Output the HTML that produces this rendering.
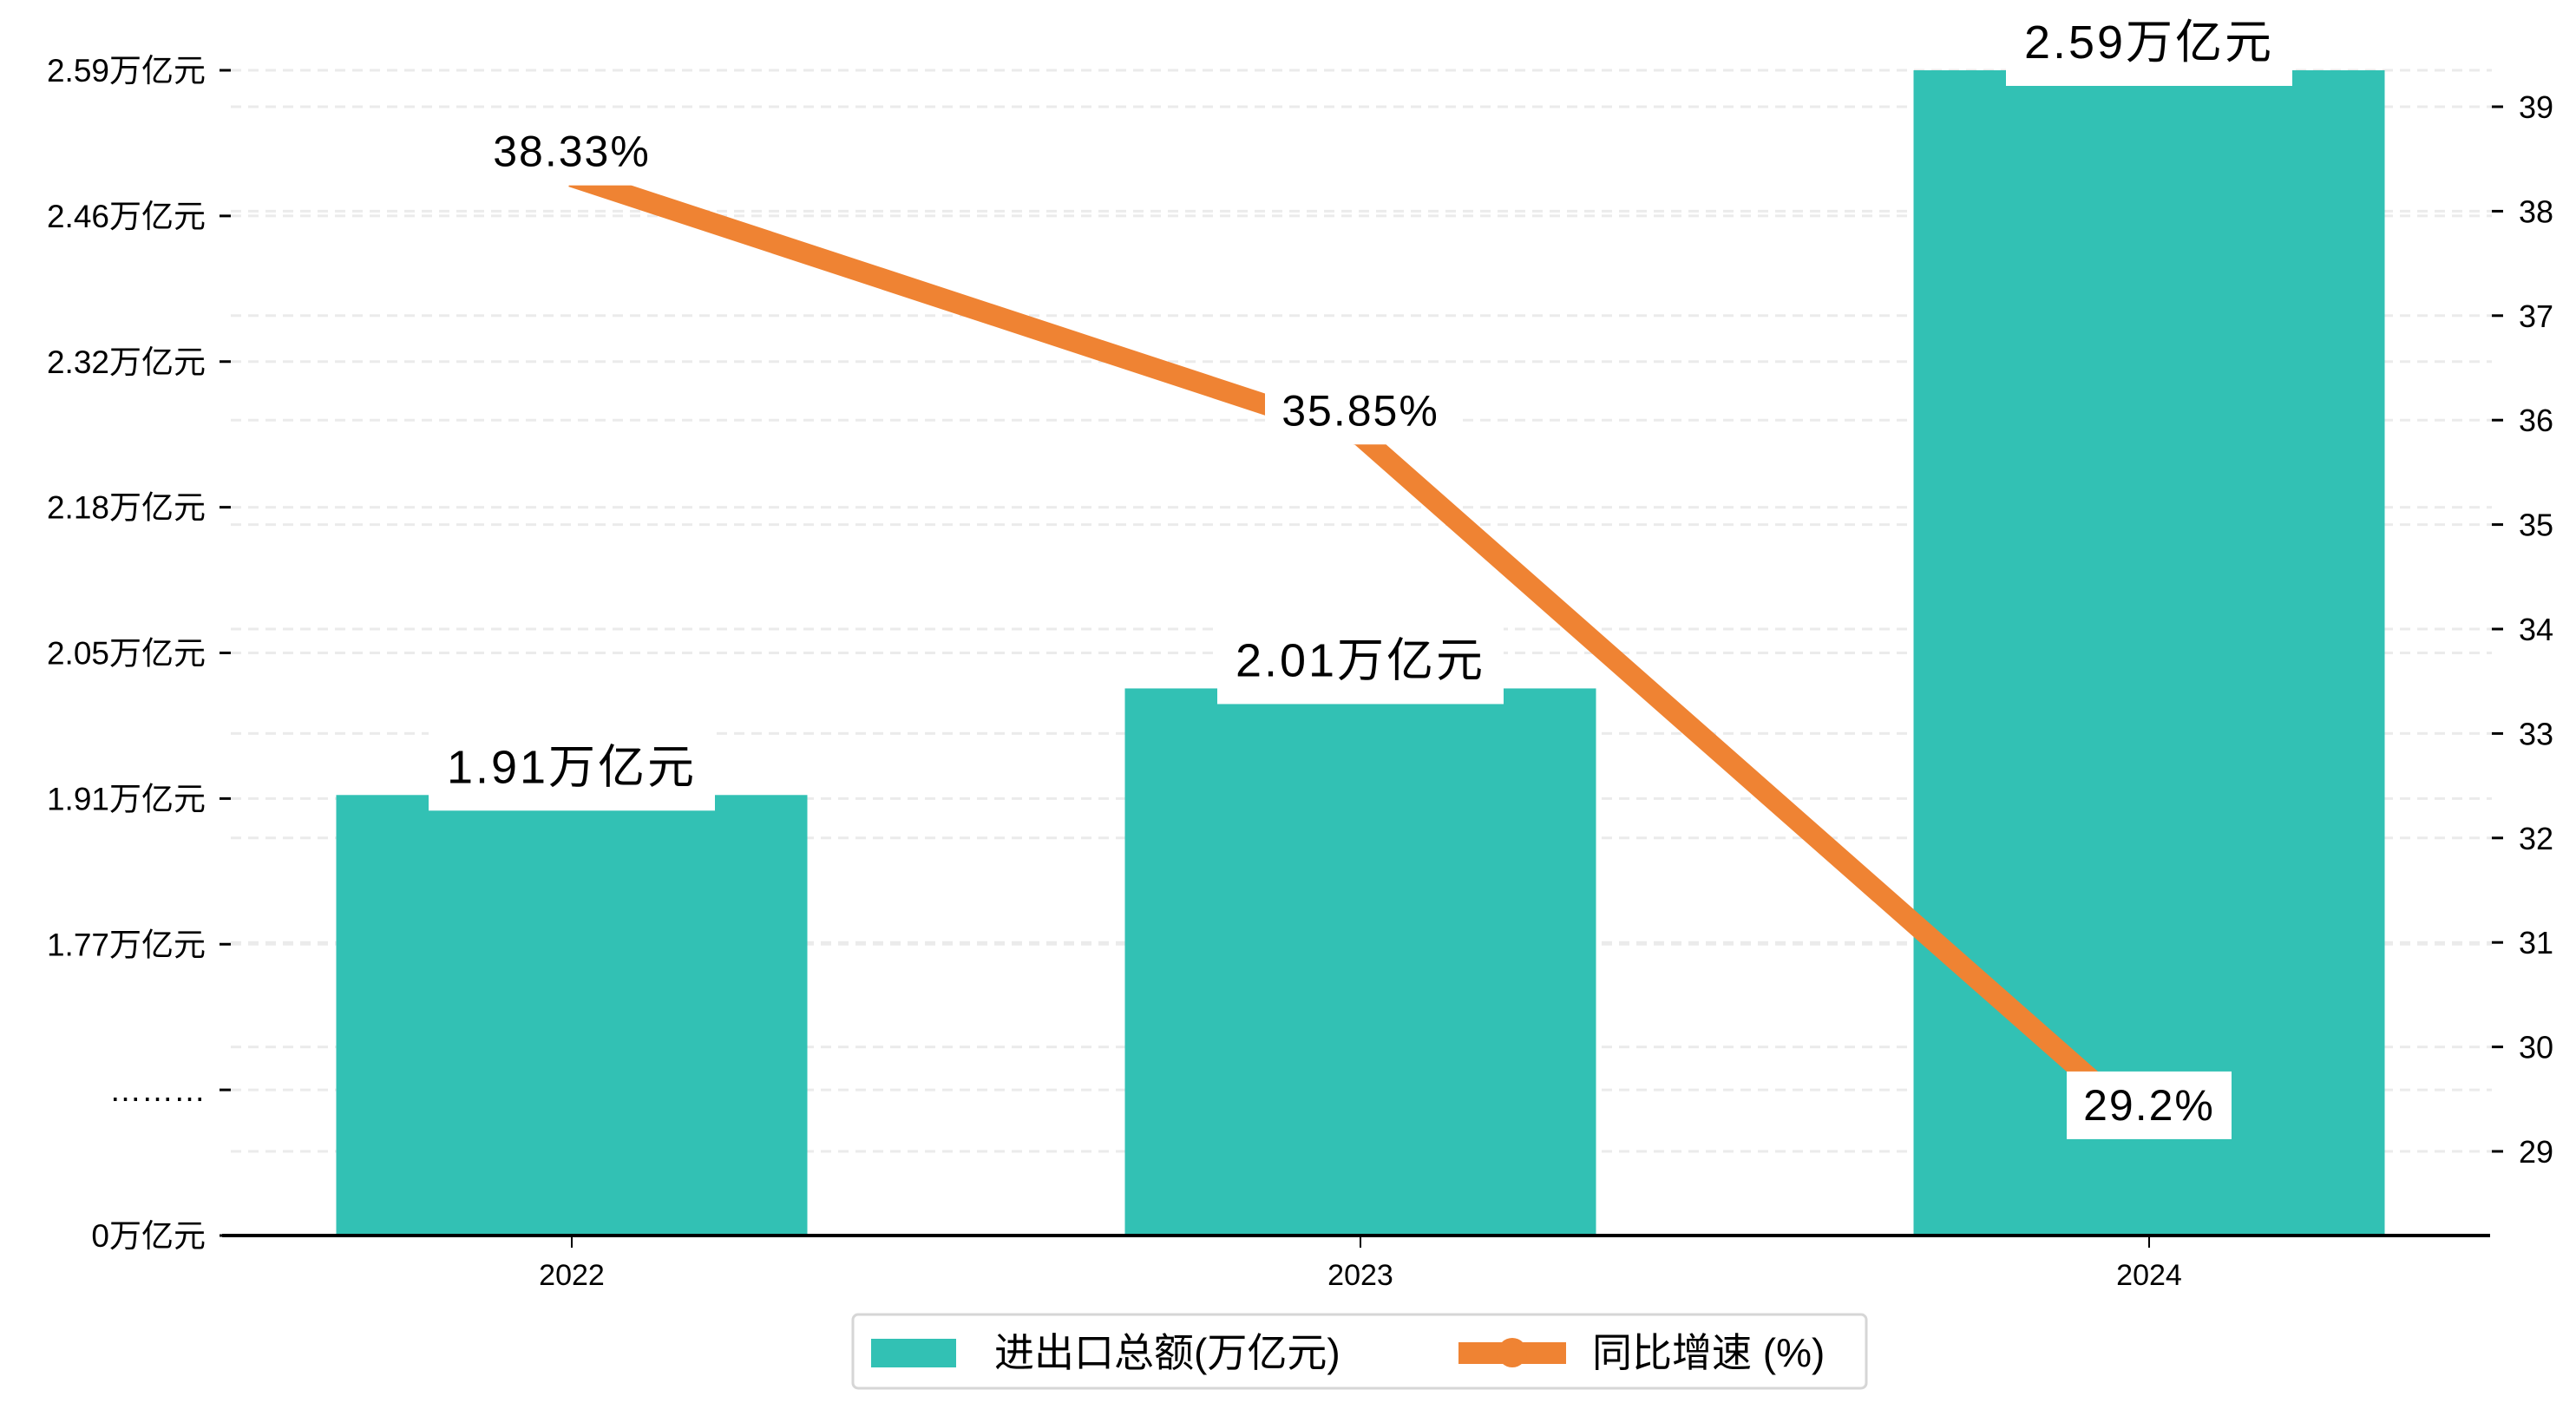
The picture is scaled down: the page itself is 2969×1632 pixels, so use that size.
<!DOCTYPE html>
<html><head><meta charset="utf-8">
<style>
html,body{margin:0;padding:0;background:#fff;}
svg{display:block;font-family:"Liberation Sans","Noto Sans CJK SC",sans-serif;}
</style></head>
<body>
<svg id="chart" width="2969" height="1632" viewBox="0 0 2969 1632" xmlns="http://www.w3.org/2000/svg">
<g id="grid"></g>
<g id="bars"></g>
<g id="line"></g>
<g id="axes"></g>
<g id="labels"></g>
<g id="legend">
  <rect x="983" y="1515" width="1168" height="85" rx="6" fill="#fff" stroke="#d6d6d6" stroke-width="3"/>
  <rect x="1004" y="1543" width="98" height="33" fill="#32c1b4"/>
  <text x="1146" y="1575" font-size="46" fill="#000">进出口总额(万亿元)</text>
  <rect x="1681" y="1547" width="124" height="25" fill="#ef8333"/>
  <circle cx="1743" cy="1559" r="17" fill="#ef8333"/>
  <text x="1835" y="1575" font-size="46" fill="#000">同比增速 (%)</text>
</g>
</svg>
<script>
const categories = ["2022", "2023", "2024"];
const tradeValues = [1.91, 2.01, 2.59];
const growthValues = [38.33, 35.85, 29.2];
const leftTickLabels = ["0万亿元", "………", "1.77万亿元", "1.91万亿元", "2.05万亿元", "2.18万亿元", "2.32万亿元", "2.46万亿元", "2.59万亿元"];
const rightTicks = [29, 30, 31, 32, 33, 34, 35, 36, 37, 38, 39];

const NS = "http://www.w3.org/2000/svg";
function mk(tag, attrs, parent, text) {
  const e = document.createElementNS(NS, tag);
  for (const k in attrs) e.setAttribute(k, attrs[k]);
  if (text !== undefined) e.textContent = text;
  parent.appendChild(e);
  return e;
}
const plotL = 256, plotR = 2870, y0 = 1424, yTop = 81;
const step = (y0 - yTop) / 8;
const vTop = 2.59, vLow = 1.77 - (2.59 - 1.77) / 6;
function yLeft(v) { return y0 - step * (1 + 7 * (v - vLow) / (vTop - vLow)); }
const r39 = 123, rPer = 120.4;
function yRight(v) { return r39 + (39 - v) * rPer; }
const bandW = (2477 - 659) / 2;
function xCat(i) { return 659 + i * bandW; }
const barW = 543;

const grid = document.getElementById("grid");
const bars = document.getElementById("bars");
const line = document.getElementById("line");
const axes = document.getElementById("axes");
const labels = document.getElementById("labels");

leftTickLabels.forEach((t, i) => {
  const y = y0 - i * step;
  if (i > 0) {
    const g = mk("line", {x1: 266, x2: 2872, y1: y, y2: y, stroke: "#ebebeb", "stroke-width": 3, "stroke-dasharray": "12 8"}, grid);
    
    
  }
  const tk = mk("line", {x1: 253, x2: 266, y1: y, y2: y, stroke: "#000", "stroke-width": 3}, axes);
  
  
  const tl = mk("text", {x: 237, y: y + 13, "font-size": 37, "text-anchor": "end", fill: "#000"}, axes, t);
  
  
});
rightTicks.forEach(v => {
  const y = yRight(v);
  const g = mk("line", {x1: 266, x2: 2872, y1: y, y2: y, stroke: "#ebebeb", "stroke-width": 3, "stroke-dasharray": "12 8"}, grid);
  
  
  const tk = mk("line", {x1: 2872, x2: 2885, y1: y, y2: y, stroke: "#000", "stroke-width": 3}, axes);
  
  
  const tl = mk("text", {x: 2903, y: y + 13, "font-size": 36, fill: "#000"}, axes, String(v));
  
  
});
tradeValues.forEach((v, i) => {
  const y = yLeft(v);
  const b = mk("rect", {x: xCat(i) - barW / 2, y: y, width: barW, height: y0 - y, fill: "#32c1b4"}, bars);
  
  
});
const ax = mk("line", {x1: plotL, x2: plotR, y1: y0, y2: y0, stroke: "#000", "stroke-width": 4}, axes);


categories.forEach((c, i) => {
  const tk = mk("line", {x1: xCat(i), x2: xCat(i), y1: y0, y2: y0 + 14, stroke: "#000", "stroke-width": 2}, axes);
  
  
  const tl = mk("text", {x: xCat(i), y: y0 + 57, "font-size": 34, "text-anchor": "middle", fill: "#000"}, axes, c);
  
  
});
const pts = growthValues.map((v, i) => xCat(i) + "," + yRight(v)).join(" ");
const pl = mk("polyline", {points: pts, fill: "none", stroke: "#ef8333", "stroke-width": 24, "stroke-linejoin": "miter"}, line);


tradeValues.forEach((v, i) => {
  const y = yLeft(v);
  const t = v.toFixed(2) + "万亿元";
  const bx = mk("rect", {x: xCat(i) - 165, y: y - 82, width: 330, height: 100, fill: "#fff"}, labels);
  
  
  const tx = mk("text", {x: xCat(i), y: y - 14, "font-size": 54, "text-anchor": "middle", fill: "#000", "letter-spacing": 3}, labels, t);
  
  
});
growthValues.forEach((v, i) => {
  const y = yRight(v);
  const t = v + "%";
  const w = t.length * 30 + 40;
  const bx = mk("rect", {x: xCat(i) - w / 2, y: y - 68, width: w, height: 78, fill: "#fff"}, labels);
  
  
  const tx = mk("text", {x: xCat(i), y: y - 12, "font-size": 50, "text-anchor": "middle", fill: "#000", "letter-spacing": 2}, labels, t);
  
  
});
</script>
</body></html>
